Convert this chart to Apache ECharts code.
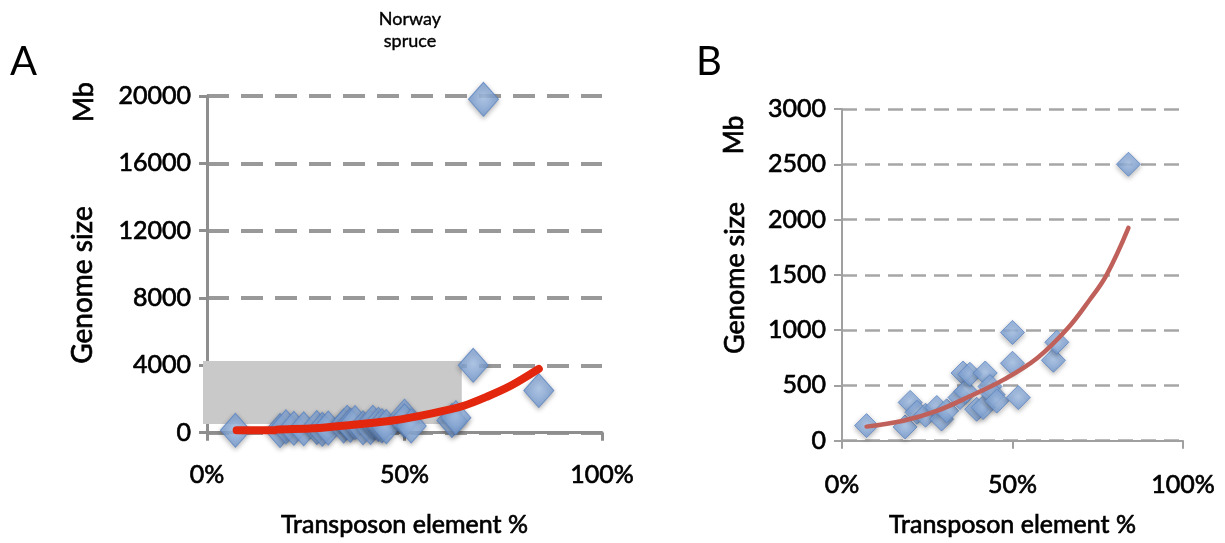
<!DOCTYPE html>
<html>
<head>
<meta charset="utf-8">
<script src="https://cdn.jsdelivr.net/npm/echarts@6/dist/echarts.min.js"></script>
<style>
  html, body { margin: 0; padding: 0; background: #fff; }
  #chart { width: 1225px; height: 543px; }
</style>
</head>
<body>
<div id="chart"></div>
<script>
// genome size (Mb) vs transposon element % -- points shared by both panels
const clusterPoints = [
  [7.2, 136], [18.5, 124], [20, 346], [22, 257], [24.5, 230], [27.8, 300],
  [29.2, 195], [30.7, 270], [34.6, 390], [35.5, 612], [36.3, 446], [37.5, 600],
  [39.5, 284], [41.4, 300], [42, 612], [43.4, 490], [44.3, 417], [45.4, 358],
  [50, 979], [50, 700], [51.7, 390], [62, 727], [63, 890], [84, 2500]
]
// only in panel A
const extraPointsA = [[67.4, 4000], [70, 19800]]
// fitted curves
const fitLineA = [
  [7.5, 136], [17, 140], [17.6, 180], [27, 260], [37, 470], [47, 720],
  [57, 1150], [65, 1600], [71, 2150], [77, 2800], [84, 3790]
]
const fitLineB = [
  [7.2, 127], [18, 180], [27.8, 269], [37.5, 402], [47.3, 550], [57.1, 743],
  [66, 1009], [72.7, 1277], [77.6, 1500], [84, 1925]
]
// grey highlight in A: [x0, y0, x1, y1]
const highlightBox = [[0, 520, 64.5, 4250]]

const yMaxA = 20000, yStepA = 4000
const yMaxB = 3000, yStepB = 500

const FONT = 'Lato'
// the scanned figure has heavy text, thicken it a bit
const heavy = { textBorderColor: '#000', textBorderWidth: 0.7 }

const chart = echarts.init(document.getElementById('chart'), null, { renderer: 'canvas' })

const diamondStyle = {
  color: new echarts.graphic.RadialGradient(0.5, 0.45, 0.65, [
    { offset: 0, color: '#aac6ec' },
    { offset: 1, color: '#6a94d0' }
  ]),
  borderColor: '#5b85c2',
  borderWidth: 1,
  shadowBlur: 5,
  shadowColor: 'rgba(0,0,0,0.35)',
  shadowOffsetY: 2
}

const xAxisBase = (idx, color, width, margin, nameGap) => ({
  gridIndex: idx,
  type: 'value',
  min: 0,
  max: 100,
  interval: 50,
  name: 'Transposon element %',
  nameLocation: 'middle',
  nameGap,
  nameTextStyle: { fontFamily: FONT, fontSize: 25, color: '#000', ...heavy },
  axisLine: { show: true, onZero: false, lineStyle: { color, width } },
  axisTick: { show: true, length: 8, lineStyle: { color, width } },
  axisLabel: { fontFamily: FONT, fontSize: 25, color: '#000', margin, formatter: '{value}%', ...heavy },
  splitLine: { show: false }
})

const yAxisBase = (idx, max, step, color, width, gridStyle) => ({
  gridIndex: idx,
  type: 'value',
  min: 0,
  max,
  interval: step,
  axisLine: { show: true, lineStyle: { color, width } },
  axisTick: { show: true, length: 8, lineStyle: { color, width } },
  axisLabel: { fontFamily: FONT, fontSize: 25, color: '#000', margin: 16, formatter: v => String(v), ...heavy },
  splitLine: { show: true, lineStyle: gridStyle }
})

const rotText = (x, y, text, size) => ({
  type: 'text',
  x, y,
  rotation: Math.PI / 2,
  style: { text, fontFamily: FONT, fontSize: size, fill: '#000', align: 'center', verticalAlign: 'middle', stroke: '#000', lineWidth: 0.7 }
})

const option = {
  animation: false,
  backgroundColor: '#fff',
  grid: [
    { left: 207, top: 96, width: 395, height: 338 },
    { left: 842, top: 109, width: 341, height: 338 }
  ],
  xAxis: [
    xAxisBase(0, '#8e8e8e', 3, 30, 80),
    xAxisBase(1, '#a0a0a0', 2, 32, 72)
  ],
  yAxis: [
    yAxisBase(0, yMaxA, yStepA, '#8e8e8e', 3, { color: '#999', width: 4, type: [22, 12] }),
    yAxisBase(1, yMaxB, yStepB, '#a0a0a0', 2, { color: '#a6a6a6', width: 2.5, type: [15, 8] })
  ],
  graphic: [
    { type: 'text', left: 10, top: 42, style: { text: 'A', fontFamily: FONT, fontSize: 40, fill: '#000' } },
    { type: 'text', left: 696, top: 42, style: { text: 'B', fontFamily: FONT, fontSize: 40, fill: '#000' } },
    { type: 'text', x: 410, y: 30, style: { text: 'Norway\nspruce', fontFamily: FONT, fontSize: 18, lineHeight: 22, fill: '#000', align: 'center', verticalAlign: 'middle', stroke: '#000', lineWidth: 0.4 } },
    rotText(84, 102, 'Mb', 27),
    rotText(83, 285, 'Genome size', 28),
    rotText(735, 135, 'Mb', 26),
    rotText(735, 278, 'Genome size', 27)
  ],
  series: [
    {
      type: 'custom',
      xAxisIndex: 0,
      yAxisIndex: 0,
      z: 1,
      data: highlightBox,
      renderItem: (params, api) => {
        const p0 = api.coord([api.value(0), api.value(3)])
        const p1 = api.coord([api.value(2), api.value(1)])
        return {
          type: 'rect',
          shape: { x: p0[0] - 4, y: p0[1], width: p1[0] - p0[0] + 4, height: p1[1] - p0[1] },
          style: { fill: '#c9c9c9' }
        }
      }
    },
    {
      type: 'scatter',
      xAxisIndex: 0,
      yAxisIndex: 0,
      z: 3,
      symbol: 'diamond',
      symbolSize: [30, 34],
      data: clusterPoints.concat(extraPointsA),
      itemStyle: diamondStyle
    },
    {
      type: 'line',
      xAxisIndex: 0,
      yAxisIndex: 0,
      z: 4,
      data: fitLineA,
      symbol: 'none',
      smooth: 0.3,
      lineStyle: { color: '#e3260e', width: 8, cap: 'round' }
    },
    {
      type: 'scatter',
      xAxisIndex: 1,
      yAxisIndex: 1,
      z: 3,
      symbol: 'diamond',
      symbolSize: [24, 24],
      data: clusterPoints,
      itemStyle: diamondStyle
    },
    {
      type: 'line',
      xAxisIndex: 1,
      yAxisIndex: 1,
      z: 4,
      data: fitLineB,
      symbol: 'none',
      smooth: 0.4,
      lineStyle: { color: '#c0605a', width: 4.5, cap: 'round' }
    }
  ]
}

chart.setOption(option)
</script>
</body>
</html>
